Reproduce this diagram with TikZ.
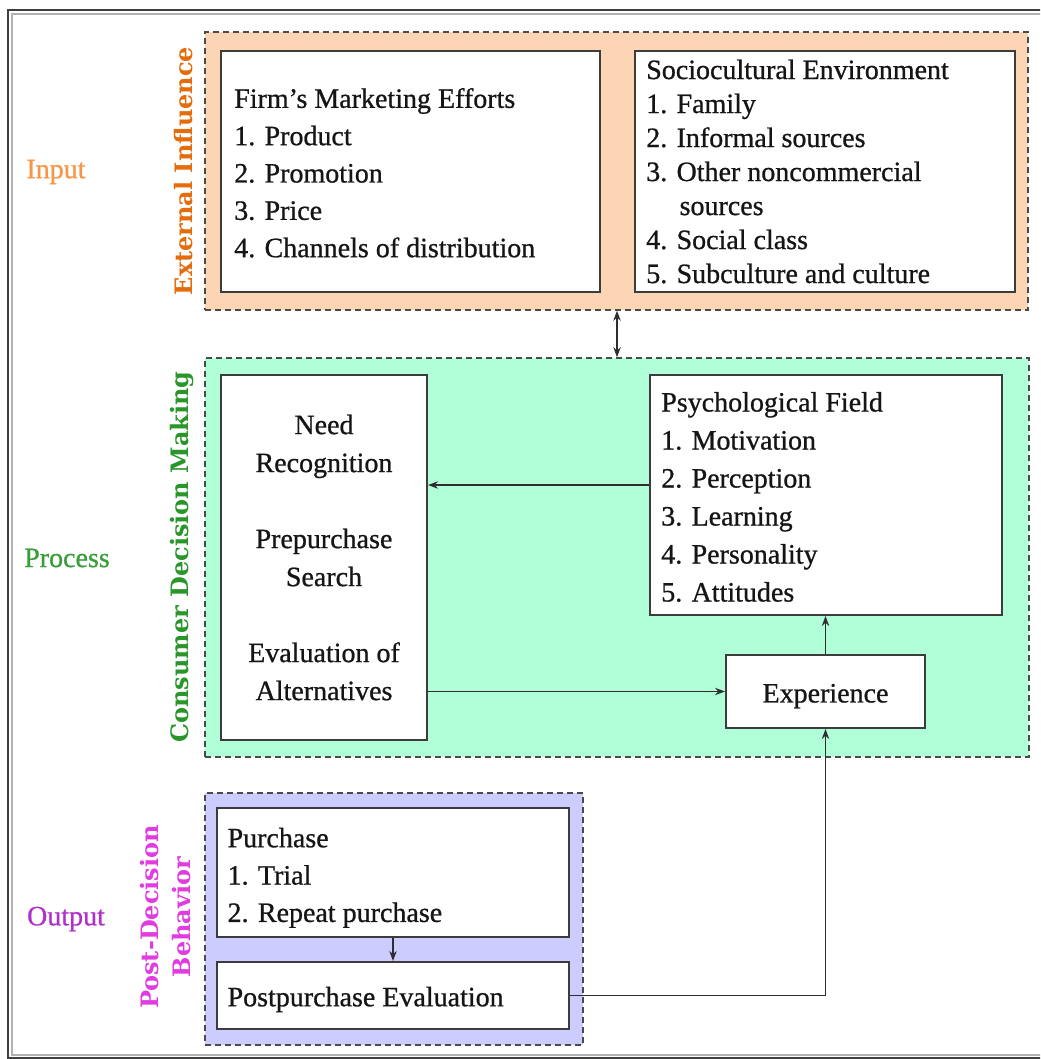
\documentclass[tikz,border=0pt]{standalone}
\usepackage{fontspec}
\setmainfont{Liberation Serif}[FakeBold=0.8]
\newfontfamily\labfont{DejaVu Serif}
\usetikzlibrary{fit,arrows.meta,calc}
\definecolor{boxline}{HTML}{3C3C3C}
\definecolor{dashline}{HTML}{4A4A4A}
\definecolor{arrc}{HTML}{2E2E2E}
\definecolor{textc}{HTML}{151515}
\definecolor{extfill}{HTML}{FCD5B4}
\definecolor{cdmfill}{HTML}{B0FFD8}
\definecolor{postfill}{HTML}{CCCCFF}
\definecolor{inputc}{HTML}{F79646}
\definecolor{extc}{HTML}{E46C0A}
\definecolor{procc}{HTML}{3A9E3A}
\definecolor{cdmc}{HTML}{2A962A}
\definecolor{outc}{HTML}{B030CC}
\definecolor{postc}{HTML}{E03CE0}
\begin{document}
\begin{tikzpicture}[x=0.75pt,y=-0.75pt,
  box/.style={draw=boxline, line width=1.5pt, fill=white, inner sep=0pt},
  grp/.style={draw=dashline, line width=1.1pt, dash pattern=on 4.5pt off 3pt, inner sep=0pt},
  txt/.style={inner sep=0pt, align=left, text=textc, font=\fontsize{21}{28}\selectfont},
  side/.style={font=\fontsize{21}{25}\selectfont, inner sep=0pt},
  vlab/.style={rotate=90, font=\labfont\bfseries\fontsize{18}{24}\selectfont, inner sep=0pt, align=center},
  arr/.style={draw=arrc, line width=1.2pt, -{Stealth[length=7.5pt,width=5.5pt]}},
  dblarr/.style={draw=arrc, line width=1.2pt, {Stealth[length=7.5pt,width=5.5pt]}-{Stealth[length=7.5pt,width=5.5pt]}},
]
\useasboundingbox (0,0) rectangle (1040,1059);
\clip (0,0) rectangle (1040,1059);
\fill[white] (0,0) rectangle (1040,1059);
% outer frame
\draw[draw=black!75, line width=1.5pt] (8,10) rectangle (1060,1058);
\draw[draw=black!30, line width=0.8pt] (12,14) rectangle (1060,1055);

% group boxes
\node[grp, fill=extfill, fit={(205,32)(1028,310)}] (ext) {};
\node[grp, fill=cdmfill, fit={(205,358)(1029,757)}] (cdm) {};
\node[grp, fill=postfill, fit={(205,793)(583,1045)}] (post) {};

% external influence boxes
\node[box, fit={(221,51)(600,292)}] (firm) {};
\node[txt, anchor=west] (firmtxt) at ([xshift=10.5pt,yshift=-1pt]firm.west)
  {Firm’s Marketing Efforts\\1. Product\\2. Promotion\\3. Price\\4. Channels of distribution};
\node[box, fit={(635,51)(1015,292)}] (socio) {};
\node[txt, anchor=west, font=\fontsize{21}{25.5}\selectfont] (sociotxt) at ([xshift=9pt]socio.west)
  {Sociocultural Environment\\1. Family\\2. Informal sources\\3. Other noncommercial\\\hspace*{25pt}sources\\4. Social class\\5. Subculture and culture};

% consumer decision making boxes
\node[box, fit={(221,375)(427,740)}] (proc) {};
\node[txt, align=center, font=\fontsize{21}{28.5}\selectfont] (proctxt) at (proc.center)
  {Need\\Recognition\\[28.5pt]Prepurchase\\Search\\[28.5pt]Evaluation of\\Alternatives};
\node[box, fit={(650,375)(1002,615)}] (psych) {};
\node[txt, anchor=west, font=\fontsize{21}{28.5}\selectfont] (psychtxt) at ([xshift=9pt,yshift=-1.5pt]psych.west)
  {Psychological Field\\1. Motivation\\2. Perception\\3. Learning\\4. Personality\\5. Attitudes};
\node[box, fit={(726,655)(925,728)}] (exp) {};
\node[txt] (exptxt) at ([yshift=-3.5pt]exp.center) {Experience};

% post-decision boxes
\node[box, fit={(217,808)(569,937)}] (purch) {};
\node[txt, anchor=west] (purchtxt) at ([xshift=8.5pt,yshift=-4pt]purch.west)
  {Purchase\\1. Trial\\2. Repeat purchase};
\node[box, fit={(217,962)(569,1029)}] (postp) {};
\node[txt, anchor=west] (postptxt) at ([xshift=8.5pt,yshift=-3pt]postp.west) {Postpurchase Evaluation};

% side labels
\node[side, text=inputc] (input) at (56,172) {Input};
\node[side, text=procc] (process) at (67,558) {Process};
\node[side, text=outc] (output) at (66,919) {Output};
\node[vlab, text=extc] (extlab) at (184,171) {External Influence};
\node[vlab, text=cdmc] (cdmlab) at (182,557) {Consumer Decision Making};
\node[vlab, text=postc] (postlab) at (166,917) {Post-Decision\\Behavior};

% connectors
\coordinate (dblx) at (617,0);
\coordinate (y1) at (0,485);
\draw[dblarr] (ext.south -| dblx) -- (cdm.north -| dblx);
\draw[arr] (psych.west |- y1) -- (proc.east |- y1);
\draw[arr] (proc.east |- exp.west) -- (exp.west);
\draw[arr] (exp.north) -- (psych.south -| exp.north);
\draw[arr] (postp.east) -| (exp.south);
\draw[arr] (purch.south) -- (postp.north);
\end{tikzpicture}
\end{document}
